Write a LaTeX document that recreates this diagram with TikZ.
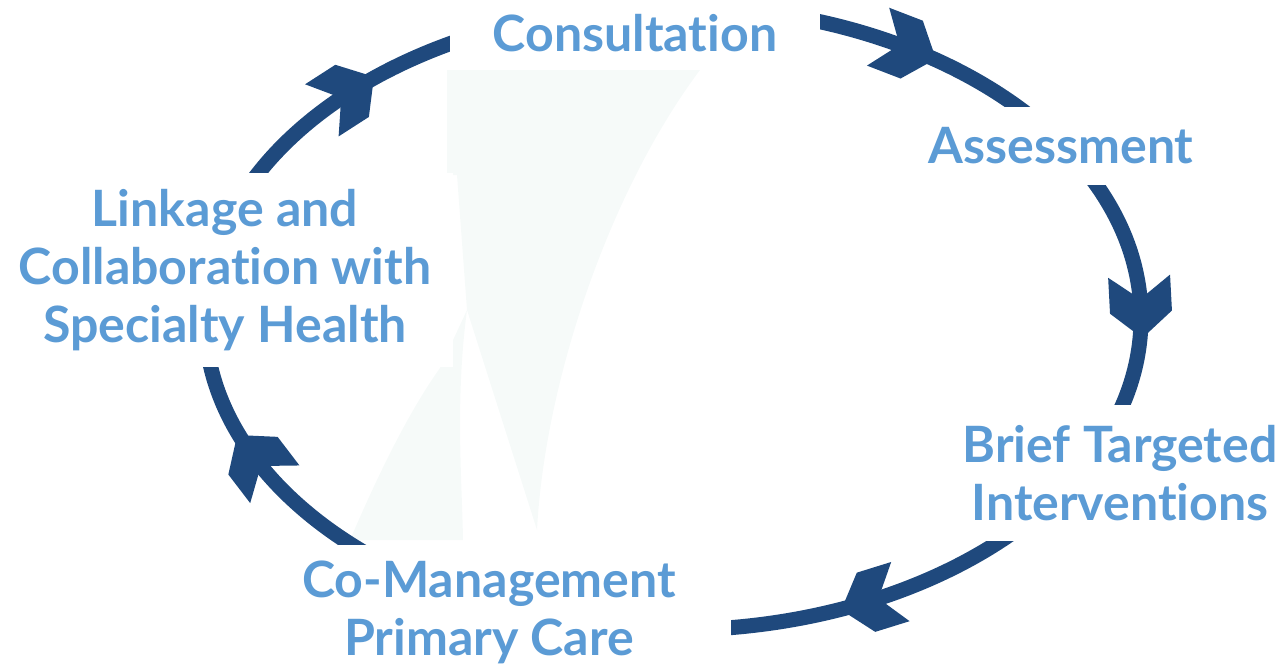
\documentclass[tikz,border=0pt]{standalone}
\usepackage{fontspec}
\setsansfont{Lato}[Ligatures=NoCommon]
\definecolor{ringblue}{RGB}{31,73,125}
\definecolor{lblblue}{RGB}{91,155,213}
\definecolor{haze}{RGB}{246,250,249}

\begin{document}
\begin{tikzpicture}[x=0.02cm,y=-0.02cm,font=\sffamily\bfseries\fontsize{28.5}{33}\selectfont,
 ring/.style={draw=ringblue,line width=0.3cm},
 lbl/.style={fill=white,text=lblblue,align=center,inner sep=0pt}]
\useasboundingbox (0,0) rectangle (1284,667);
% pale backdrop
\fill[haze] (447,70) -- (700,70) .. controls (610,190) and (545,380) .. (537,530) -- (467,310) -- (457,175) -- (447,175) -- cycle;
\fill[haze] (467,310) .. controls (455,400) and (462,480) .. (463,540) -- (350,540) .. controls (380,470) and (410,410) .. (440,368) -- cycle;
% the cycle and its chevrons
\draw[ring] (673,318) ellipse [x radius=468,y radius=312];
\foreach \t in {-60,-2,65,153,226}{
  \pgfmathsetmacro\ang{atan2(-312*cos(\t),-468*sin(\t))}
  \fill[ringblue,shift={({673+468*cos(\t)},{318+312*sin(\t)})},rotate=\ang]
    (31,0) -- (5,31) -- (-31,31) -- (-8,0) -- (-31,-31) -- (5,-31) -- cycle;
}
% stages
\node[lbl,minimum width=7.42cm,minimum height=1.4cm] (cons) at (635,33) {Consultation};
\node[lbl,minimum width=6.6cm,minimum height=1.56cm] (asse) at (1061,146) {Assessment};
\node[lbl,minimum width=6.6cm,minimum height=2.74cm] (brief) at (1120,473) {Brief Targeted\\Interventions};
\node[lbl,minimum width=9.68cm,minimum height=2.7cm] (coman) at (489,612) {Co-Management\\Primary Care};
\node[lbl,minimum width=9.14cm,minimum height=3.88cm] (link) at (225,270) {Linkage and\\Collaboration with\\Specialty Health};
\end{tikzpicture}
\end{document}
